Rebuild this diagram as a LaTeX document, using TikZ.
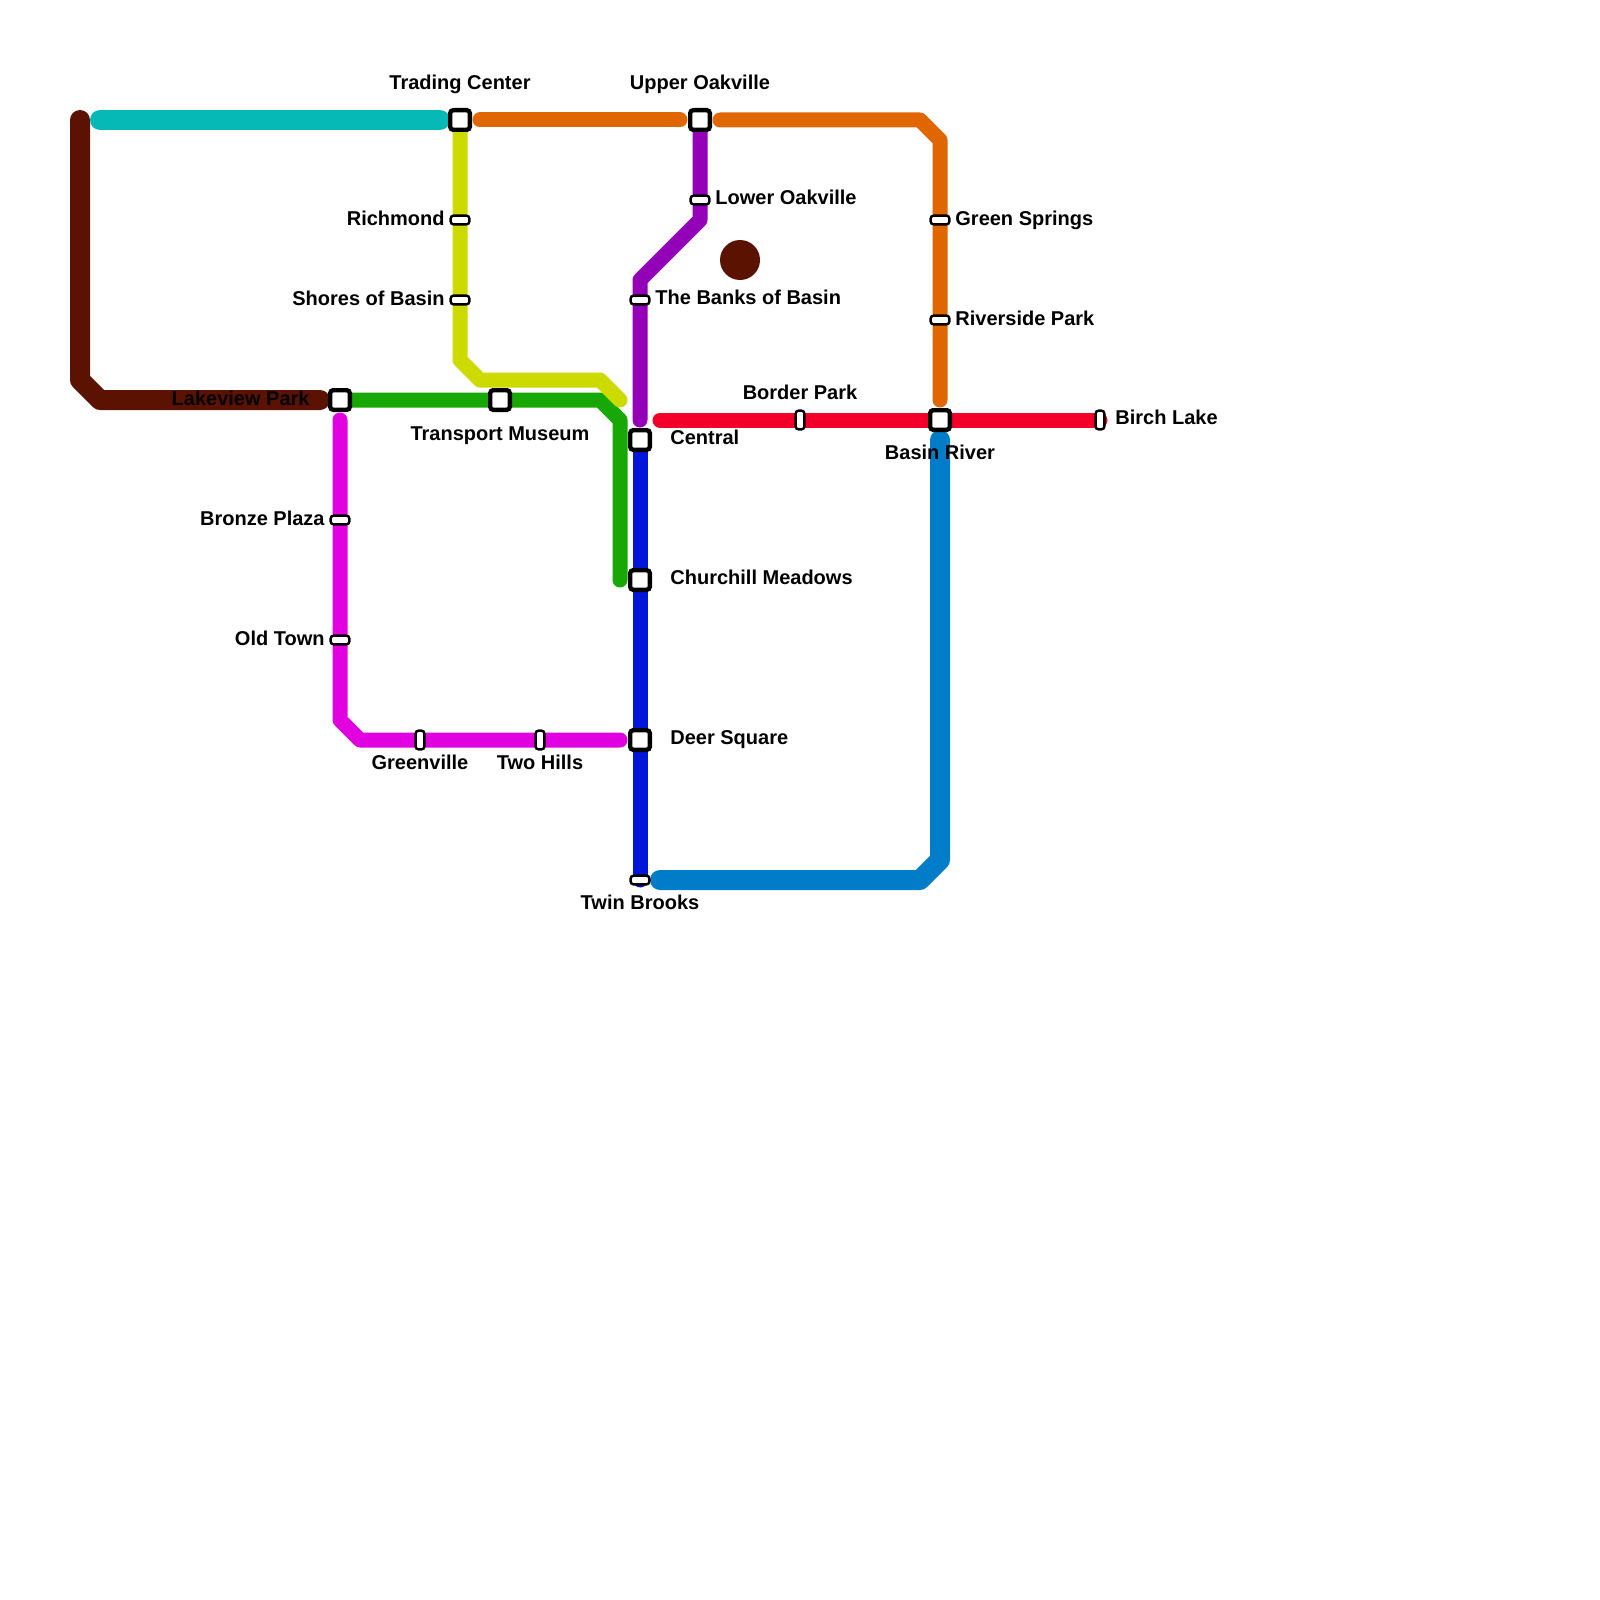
\documentclass[tikz,border=0pt]{standalone}
\usepackage{fontspec}
\usetikzlibrary{backgrounds}
\newfontfamily\stnfont{Liberation Sans Bold}
\definecolor{brownline}{HTML}{5C1200}
\definecolor{tealline}{HTML}{06B9B6}
\definecolor{orangeline}{HTML}{E06600}
\definecolor{limeline}{HTML}{CCDA00}
\definecolor{greenline}{HTML}{17A805}
\definecolor{magentaline}{HTML}{E000E0}
\definecolor{blueline}{HTML}{0016D8}
\definecolor{purpleline}{HTML}{9400B8}
\definecolor{redline}{HTML}{F2002A}
\definecolor{steelline}{HTML}{007CC8}
\tikzset{
  thinline/.style={line width=7.5pt, line cap=round, line join=round},
  wideline/.style={line width=10pt, line cap=round, line join=round},
  hub/.style={draw=black, fill=white, line width=2.2pt, rounded corners=1.5pt, inner sep=0pt, minimum width=9.8pt, minimum height=9.8pt},
  halth/.style={draw=black, fill=white, line width=1.2pt, rounded corners=1.5pt, inner sep=0pt, minimum width=9.4pt, minimum height=4.4pt},
  haltv/.style={draw=black, fill=white, line width=1.2pt, rounded corners=1.5pt, inner sep=0pt, minimum width=4.4pt, minimum height=9.4pt},
  stnlabel/.style={inner sep=0pt, text=black, font=\stnfont\fontsize{10}{12}\selectfont},
}
\begin{document}
\begin{tikzpicture}[x=0.5pt, y=-0.5pt]
  \useasboundingbox (0,0) rectangle (1600,1600);
  % 1. stations
  \node[hub] (trading) at (460,120) {};
  \node[hub] (upper) at (700,120) {};
  \node[hub] (lakeview) at (340,400) {};
  \node[hub] (transport) at (500,400) {};
  \node[hub] (central) at (640,440) {};
  \node[hub] (churchill) at (640,580) {};
  \node[hub] (deer) at (640,740) {};
  \node[hub] (basinriver) at (940,420) {};
  \node[halth] (richmond) at (460,220) {};
  \node[halth] (shores) at (460,300) {};
  \node[halth] (lower) at (700,200) {};
  \node[halth] (banks) at (640,300) {};
  \node[halth] (green) at (940,220) {};
  \node[halth] (riverside) at (940,320) {};
  \node[halth] (bronze) at (340,520) {};
  \node[halth] (oldtown) at (340,640) {};
  \node[halth] (twin) at (640,880) {};
  \node[haltv] (border) at (800,420) {};
  \node[haltv] (birch) at (1100,420) {};
  \node[haltv] (greenville) at (420,740) {};
  \node[haltv] (twohills) at (540,740) {};
  \node[circle, fill=brownline, inner sep=0pt, minimum size=20pt] (spot) at (740,260) {};

  % 2. labels
  \node[stnlabel, anchor=base] (tradinglabel) at (460,90) {Trading Center};
  \node[stnlabel, anchor=base] (upperlabel) at (700,90) {Upper Oakville};
  \node[stnlabel, anchor=base east] (richmondlabel) at (445,225) {Richmond};
  \node[stnlabel, anchor=base east] (shoreslabel) at (445,305) {Shores of Basin};
  \node[stnlabel, anchor=base west] (lowerlabel) at (715,204) {Lower Oakville};
  \node[stnlabel, anchor=base west] (bankslabel) at (655,304) {The Banks of Basin};
  \node[stnlabel, anchor=base west] (greenlabel) at (955,225) {Green Springs};
  \node[stnlabel, anchor=base west] (riversidelabel) at (955,325) {Riverside Park};
  \node[stnlabel, anchor=base] (borderlabel) at (800,399) {Border Park};
  \node[stnlabel, anchor=base west] (birchlabel) at (1115,424) {Birch Lake};
  \node[stnlabel, anchor=base] (basinriverlabel) at (940,459) {Basin River};
  \node[stnlabel, anchor=base east] (lakeviewlabel) at (310,405) {Lakeview Park};
  \node[stnlabel, anchor=base] (transportlabel) at (500,440) {Transport Museum};
  \node[stnlabel, anchor=base west] (centrallabel) at (670,444) {Central};
  \node[stnlabel, anchor=base west] (churchilllabel) at (670,584.5) {Churchill Meadows};
  \node[stnlabel, anchor=base west] (deerlabel) at (670,744) {Deer Square};
  \node[stnlabel, anchor=base east] (bronzelabel) at (325,525) {Bronze Plaza};
  \node[stnlabel, anchor=base east] (oldtownlabel) at (325,645) {Old Town};
  \node[stnlabel, anchor=base] (greenvillelabel) at (420,769) {Greenville};
  \node[stnlabel, anchor=base] (twohillslabel) at (540,769) {Two Hills};
  \node[stnlabel, anchor=base] (twinlabel) at (640,909) {Twin Brooks};

  % 3. line ends and bends
  \coordinate (browna) at (80,120);
  \coordinate (brownb) at (80,380);
  \coordinate (brownc) at (100,400);
  \coordinate (brownd) at (320,400);
  \coordinate (teala) at (100,120);
  \coordinate (tealb) at (440,120);
  \coordinate (orangea) at (480,120);
  \coordinate (orangeb) at (680,120);
  \coordinate (orangec) at (720,120);
  \coordinate (oranged) at (920,120);
  \coordinate (orangee) at (940,140);
  \coordinate (orangef) at (940,400);
  \coordinate (limea) at (460,360);
  \coordinate (limeb) at (480,380);
  \coordinate (limec) at (600,380);
  \coordinate (limed) at (620,400);
  \coordinate (greena) at (600,400);
  \coordinate (greenb) at (620,420);
  \coordinate (greenc) at (620,580);
  \coordinate (magentaa) at (340,420);
  \coordinate (magentab) at (340,720);
  \coordinate (magentac) at (360,740);
  \coordinate (magentad) at (620,740);
  \coordinate (purplea) at (700,220);
  \coordinate (purpleb) at (640,280);
  \coordinate (purplec) at (640,420);
  \coordinate (reda) at (660,420);
  \coordinate (steela) at (940,440);
  \coordinate (steelb) at (940,860);
  \coordinate (steelc) at (920,880);
  \coordinate (steeld) at (660,880);

  % 4. lines
  \begin{scope}[on background layer]
    \draw[wideline, brownline] (browna) -- (brownb) -- (brownc) -- (brownd);
    \draw[wideline, tealline] (teala) -- (tealb);
    \draw[thinline, orangeline] (orangea) -- (orangeb);
    \draw[thinline, orangeline] (orangec) -- (oranged) -- (orangee) -- (orangef);
    \draw[thinline, purpleline] (upper.center) -- (purplea) -- (purpleb) -- (purplec);
    \draw[thinline, greenline] (lakeview.center) -- (greena) -- (greenb) -- (greenc);
    \draw[thinline, limeline] (trading.center) -- (limea) -- (limeb) -- (limec) -- (limed);
    \draw[thinline, magentaline] (magentaa) -- (magentab) -- (magentac) -- (magentad);
    \draw[thinline, blueline] (central.center) -- (twin.center);
    \draw[thinline, redline] (reda) -- (birch.center);
    \draw[wideline, steelline] (steela) -- (steelb) -- (steelc) -- (steeld);
  \end{scope}
\end{tikzpicture}
\end{document}
